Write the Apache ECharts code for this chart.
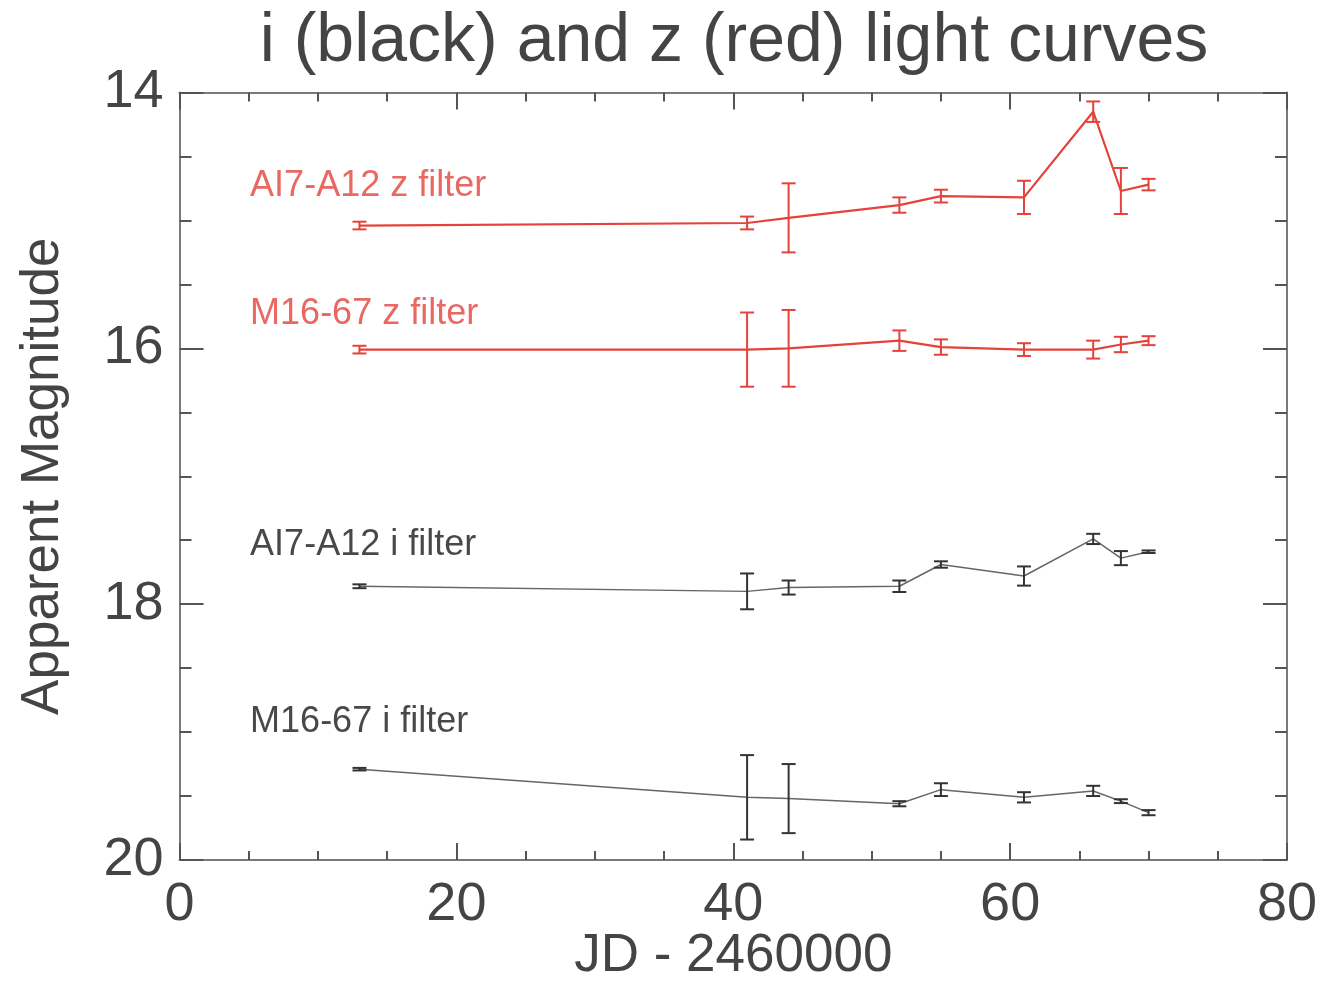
<!DOCTYPE html>
<html>
<head>
<meta charset="utf-8">
<script src="https://cdn.jsdelivr.net/npm/echarts@6/dist/echarts.min.js"></script>
<style>html,body{margin:0;padding:0;background:#fff}#c{width:1322px;height:984px}</style>
</head>
<body>
<div id="c"></div>
<script>
// JD - 2460000
const jd = [13, 41, 44, 52, 55, 61, 66, 68, 70];
// AI7-A12 z filter
const aZ = [15.04, 15.02, 14.98, 14.88, 14.81, 14.82, 14.15, 14.77, 14.72];
const aZErr = [0.03, 0.05, 0.27, 0.06, 0.05, 0.13, 0.08, 0.18, 0.045];
// M16-67 z filter
const mZ = [16.01, 16.01, 16.0, 15.94, 15.99, 16.01, 16.01, 15.97, 15.94];
const mZErr = [0.03, 0.29, 0.30, 0.08, 0.06, 0.05, 0.07, 0.06, 0.035];
// AI7-A12 i filter
const aI = [17.86, 17.90, 17.87, 17.86, 17.69, 17.78, 17.49, 17.64, 17.59];
const aIErr = [0.015, 0.14, 0.055, 0.045, 0.025, 0.075, 0.04, 0.055, 0.01];
// M16-67 i filter
const mI = [19.29, 19.51, 19.52, 19.56, 19.45, 19.51, 19.46, 19.54, 19.63];
const mIErr = [0.01, 0.33, 0.27, 0.02, 0.05, 0.04, 0.04, 0.015, 0.02];

const labelNames = ['AI7-A12 z filter', 'M16-67 z filter', 'AI7-A12 i filter', 'M16-67 i filter'];
const labelPos = [[5.1, 14.73], [5.1, 15.73], [5.1, 17.54], [5.1, 18.92]];

const RED = '#e4423b';
const BLK = '#333333';
const FONT = '"Liberation Sans", Arial, Helvetica, sans-serif';

function pts(ys) { return jd.map((x, i) => [x, ys[i]]); }
function errPts(ys, es) { return jd.map((x, i) => [x, ys[i], es[i]]); }

function errRender(color, width) {
  return function (params, api) {
    const x = api.value(0), y = api.value(1), e = api.value(2);
    const p1 = api.coord([x, y - e]);
    const p2 = api.coord([x, y + e]);
    const hw = 7;
    const st = { stroke: color, lineWidth: width };
    return {
      type: 'group',
      children: [
        { type: 'line', shape: { x1: p1[0], y1: p1[1], x2: p2[0], y2: p2[1] }, style: st },
        { type: 'line', shape: { x1: p1[0] - hw, y1: p1[1], x2: p1[0] + hw, y2: p1[1] }, style: st },
        { type: 'line', shape: { x1: p2[0] - hw, y1: p2[1], x2: p2[0] + hw, y2: p2[1] }, style: st }
      ]
    };
  };
}

function lineSeries(ys, color, w) {
  return { type: 'line', data: pts(ys), symbol: 'none', silent: true,
    lineStyle: { color: color, width: w }, z: 3 };
}
function errSeries(ys, es, color, w) {
  return { type: 'custom', data: errPts(ys, es), renderItem: errRender(color, w),
    encode: { x: 0, y: 1 }, silent: true, z: 4 };
}

const axisLine = { show: true, onZero: false, lineStyle: { color: '#7a7a7a', width: 2 } };

const xBase = {
  type: 'value', min: 0, max: 80, interval: 20,
  axisLine: axisLine, splitLine: { show: false },
  axisTick: { show: true, inside: true, length: 17, lineStyle: { color: '#555', width: 2 } },
  minorTick: { show: true, splitNumber: 4, length: 9, lineStyle: { color: '#555', width: 2 } }
};
const yBase = {
  type: 'value', min: 14, max: 20, interval: 2, inverse: true,
  axisLine: axisLine, splitLine: { show: false },
  axisTick: { show: true, inside: true, length: 24, lineStyle: { color: '#555', width: 2 } },
  minorTick: { show: true, splitNumber: 4, length: 12, lineStyle: { color: '#555', width: 2 } }
};

const option = {
  backgroundColor: '#fff',
  animation: false,
  title: {
    text: 'i (black) and z (red) light curves',
    left: 729, textAlign: 'center', top: 3,
    textStyle: { fontFamily: FONT, fontSize: 68, fontWeight: 'normal', color: '#444' }
  },
  grid: { left: 179.5, right: 35, top: 92.5, bottom: 124, outerBoundsMode: 'none', containLabel: false },
  xAxis: [
    Object.assign({}, xBase, {
      position: 'bottom',
      name: 'JD - 2460000', nameLocation: 'middle', nameGap: 70, nameMoveOverlap: false,
      nameTextStyle: { fontFamily: FONT, fontSize: 53, color: '#444' },
      axisLabel: { show: true, fontFamily: FONT, fontSize: 54, color: '#444', margin: 18 }
    }),
    Object.assign({}, xBase, { position: 'top', axisLabel: { show: false } })
  ],
  yAxis: [
    Object.assign({}, yBase, {
      position: 'left',
      name: 'Apparent Magnitude', nameLocation: 'middle', nameGap: 110, nameRotate: 90,
      nameTextStyle: { fontFamily: FONT, fontSize: 53, color: '#444' },
      axisLabel: { show: true, fontFamily: FONT, fontSize: 54, color: '#444', margin: 16 }
    }),
    Object.assign({}, yBase, { position: 'right', axisLabel: { show: false } })
  ],
  series: [
    lineSeries(aZ, RED, 2.2), errSeries(aZ, aZErr, RED, 2),
    lineSeries(mZ, RED, 2.2), errSeries(mZ, mZErr, RED, 2),
    lineSeries(aI, '#666', 1.5), errSeries(aI, aIErr, BLK, 2),
    lineSeries(mI, '#666', 1.5), errSeries(mI, mIErr, BLK, 2),
    {
      type: 'scatter', symbolSize: 0, silent: true, z: 5,
      data: labelPos.map((p, i) => ({
        value: p,
        label: {
          show: true, position: 'right', distance: 0,
          formatter: labelNames[i],
          fontFamily: FONT, fontSize: 36,
          color: i < 2 ? RED : '#1a1a1a'
        }
      }))
    }
  ]
};

const chart = echarts.init(document.getElementById('c'), null, { renderer: 'canvas' });
chart.setOption(option);
</script>
</body>
</html>
